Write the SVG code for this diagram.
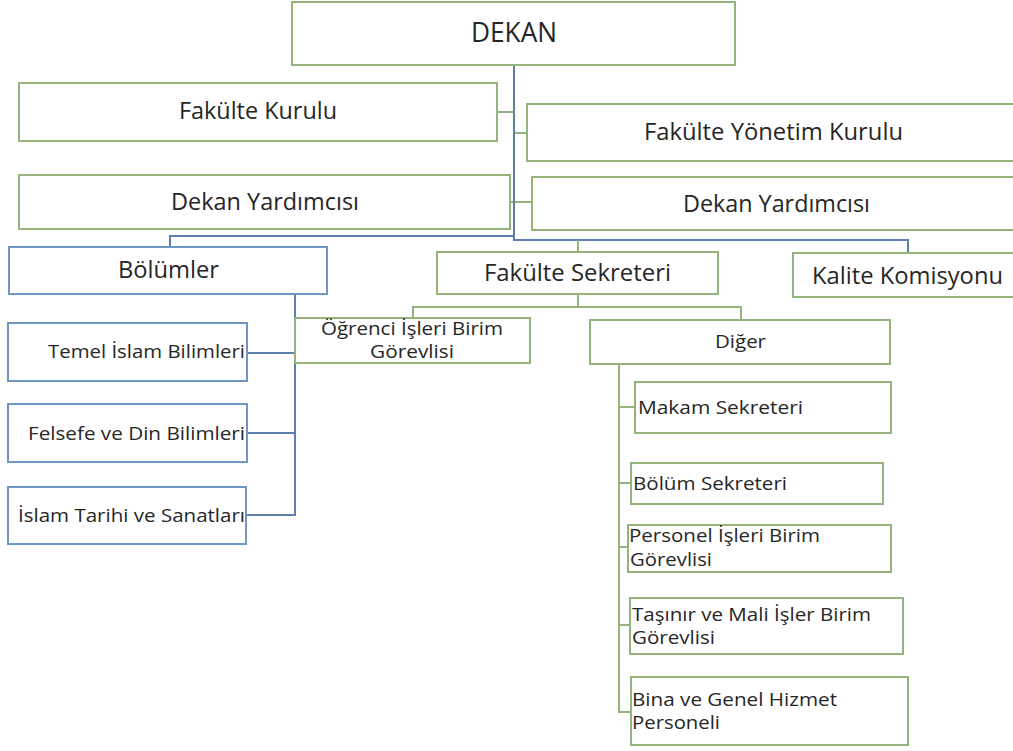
<svg xmlns="http://www.w3.org/2000/svg" width="1013" height="751" viewBox="0 0 1013 751">
<style>
  .g{fill:#fff;stroke:#94b47c;stroke-width:2}
  .b{fill:#fff;stroke:#6d98c4;stroke-width:2}
  .cb{fill:none;stroke:#5d7fae;stroke-width:2}
  .cg{fill:none;stroke:#94b47c;stroke-width:2}
  text{font-family:"Open Sans","Noto Sans",sans-serif;fill:#262626}
  .t1{font-size:23px}
  .t2{font-size:19px}
</style>
<rect width="1013" height="751" fill="#fff"/>
<g id="connectors">
  <path class="cg" d="M497 112H514M514 133H527M510 202H532"/>
  <path class="cb" d="M514 65V240H908V253M514 236H170V247"/>
  <path class="cg" d="M578 240V252"/>
  <path class="cb" d="M295 294V515H246M295 353H247M295 433H247"/>
  <path class="cg" d="M578 294V307M413 318V307H741V320"/>
  <path class="cg" d="M619 364V712H631M619 407H635M619 483H631M619 547H628M619 625H630"/>
</g>
<g id="dekan"><rect class="g" x="292" y="2" width="443" height="63"/><text x="471" y="42" font-size="27" textLength="86" lengthAdjust="spacingAndGlyphs">DEKAN</text></g>
<g id="fakulte-kurulu"><rect class="g" x="19" y="83" width="478" height="58"/><text class="t1" x="179" y="119" textLength="158" lengthAdjust="spacingAndGlyphs">Fakülte Kurulu</text></g>
<g id="fakulte-yonetim-kurulu"><rect class="g" x="527" y="104" width="500" height="57"/><text class="t1" x="644" y="140" textLength="259" lengthAdjust="spacingAndGlyphs">Fakülte Yönetim Kurulu</text></g>
<g id="dekan-yardimcisi-1"><rect class="g" x="19" y="175" width="491" height="54"/><text class="t1" x="171" y="210" textLength="188" lengthAdjust="spacingAndGlyphs">Dekan Yardımcısı</text></g>
<g id="dekan-yardimcisi-2"><rect class="g" x="532" y="177" width="495" height="53"/><text class="t1" x="683" y="212" textLength="187" lengthAdjust="spacingAndGlyphs">Dekan Yardımcısı</text></g>
<g id="bolumler"><rect class="b" x="9" y="247" width="318" height="47"/><text class="t1" x="118" y="278" textLength="101" lengthAdjust="spacingAndGlyphs">Bölümler</text></g>
<g id="fakulte-sekreteri"><rect class="g" x="437" y="252" width="281" height="42"/><text class="t1" x="484" y="281" textLength="187" lengthAdjust="spacingAndGlyphs">Fakülte Sekreteri</text></g>
<g id="kalite-komisyonu"><rect class="g" x="793" y="253" width="230" height="44"/><text class="t1" x="812" y="284" textLength="191" lengthAdjust="spacingAndGlyphs">Kalite Komisyonu</text></g>
<g id="ogrenci-isleri"><rect class="g" x="295" y="318" width="235" height="45"/><text class="t2" x="321" y="335" textLength="182" lengthAdjust="spacingAndGlyphs">Öğrenci İşleri Birim</text><text class="t2" x="370" y="358" textLength="84" lengthAdjust="spacingAndGlyphs">Görevlisi</text></g>
<g id="diger"><rect class="g" x="590" y="320" width="300" height="44"/><text class="t2" x="715" y="348" textLength="51" lengthAdjust="spacingAndGlyphs">Diğer</text></g>
<g id="temel-islam"><rect class="b" x="8" y="323" width="239" height="58"/><text class="t2" x="48" y="358" textLength="197" lengthAdjust="spacingAndGlyphs">Temel İslam Bilimleri</text></g>
<g id="felsefe-din"><rect class="b" x="8" y="404" width="239" height="58"/><text class="t2" x="28" y="440" textLength="217" lengthAdjust="spacingAndGlyphs">Felsefe ve Din Bilimleri</text></g>
<g id="islam-tarihi"><rect class="b" x="8" y="487" width="238" height="57"/><text class="t2" x="18" y="522" textLength="227" lengthAdjust="spacingAndGlyphs">İslam Tarihi ve Sanatları</text></g>
<g id="makam-sekreteri"><rect class="g" x="635" y="382" width="256" height="51"/><text class="t2" x="638" y="414" textLength="165" lengthAdjust="spacingAndGlyphs">Makam Sekreteri</text></g>
<g id="bolum-sekreteri"><rect class="g" x="631" y="463" width="252" height="41"/><text class="t2" x="633" y="490" textLength="154" lengthAdjust="spacingAndGlyphs">Bölüm Sekreteri</text></g>
<g id="personel-isleri"><rect class="g" x="628" y="525" width="263" height="47"/><text class="t2" x="629" y="542" textLength="191" lengthAdjust="spacingAndGlyphs">Personel İşleri Birim</text><text class="t2" x="630" y="566" textLength="82" lengthAdjust="spacingAndGlyphs">Görevlisi</text></g>
<g id="tasinir-mali"><rect class="g" x="630" y="598" width="273" height="56"/><text class="t2" x="632" y="621" textLength="239" lengthAdjust="spacingAndGlyphs">Taşınır ve Mali İşler Birim</text><text class="t2" x="632" y="644" textLength="83" lengthAdjust="spacingAndGlyphs">Görevlisi</text></g>
<g id="bina-genel"><rect class="g" x="631" y="677" width="277" height="68"/><text class="t2" x="632" y="706" textLength="205" lengthAdjust="spacingAndGlyphs">Bina ve Genel Hizmet</text><text class="t2" x="632" y="729" textLength="88" lengthAdjust="spacingAndGlyphs">Personeli</text></g>
</svg>
